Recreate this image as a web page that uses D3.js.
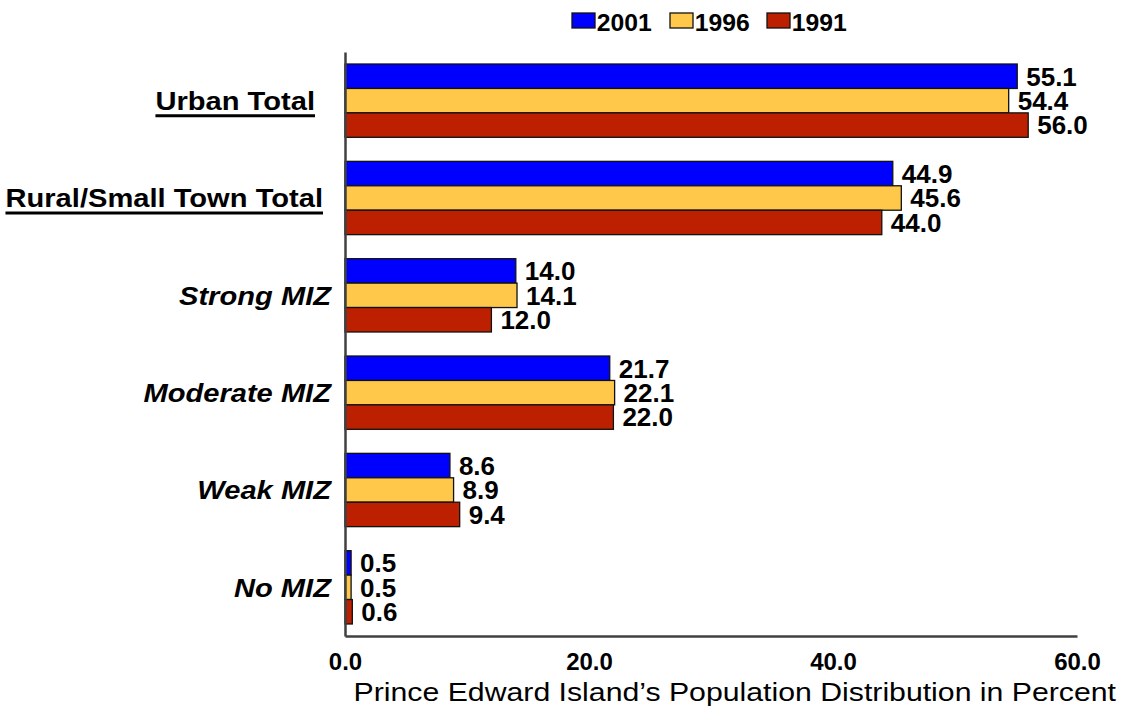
<!DOCTYPE html>
<html><head><meta charset="utf-8">
<script src="https://cdn.jsdelivr.net/npm/d3@7"></script>
<style>body{margin:0;background:#fff}svg{display:block}text{font-family:"Liberation Sans",Arial,sans-serif}</style>
</head><body><svg id="c" width="1125" height="710"></svg>
<script>
const categories = ["Urban Total","Rural/Small Town Total","Strong MIZ","Moderate MIZ","Weak MIZ","No MIZ"];
const years = ["2001","1996","1991"];
const v2001 = [55.1,44.9,14.0,21.7,8.6,0.5];
const v1996 = [54.4,45.6,14.1,22.1,8.9,0.5];
const v1991 = [56.0,44.0,12.0,22.0,9.4,0.6];
const xTicks = [0,20,40,60];
const colors = ["#0000ff","#ffc84b","#bd2000"];
const xTitle = "Prince Edward Island\u2019s Population Distribution in Percent";

const series = [v2001,v1996,v1991];
const svg = d3.select("#c");
const x = d3.scaleLinear().domain([0,60]).range([345,1077]);
const y = d3.scaleBand().domain(categories).range([52,636]).paddingInner(0.247).paddingOuter(0.1235);
const yy = d3.scaleBand().domain(years).range([0,y.bandwidth()]);
const col = d3.scaleOrdinal().domain(years).range(colors);

const rows = [];
categories.forEach((c,i)=>years.forEach((yr,j)=>rows.push({c,yr,v:series[j][i]})));

svg.selectAll("rect.bar").data(rows).join("rect").attr("class","bar")
  .attr("x",x(0)).attr("y",d=>y(d.c)+yy(d.yr)).attr("width",d=>x(d.v)-x(0)).attr("height",yy.bandwidth())
  .attr("fill",d=>col(d.yr)).attr("stroke","#111").attr("stroke-width",1.3);

svg.selectAll("text.val").data(rows).join("text").attr("class","val")
  .attr("x",d=>x(d.v)+9).attr("y",d=>y(d.c)+yy(d.yr)+yy.bandwidth()/2).attr("dy","0.36em")
  .attr("font-size",26).attr("font-weight","bold").text(d=>d.v.toFixed(1));

// axes
const xa = svg.append("g").attr("transform","translate(0,636)").call(d3.axisBottom(x).tickValues(xTicks).tickSize(0).tickPadding(17).tickFormat(d3.format(".1f")));
xa.select(".domain").attr("stroke","#404040").attr("stroke-width",2.5);
xa.selectAll("text").attr("font-size",24).attr("font-weight","bold").attr("fill","#000").style("font-family","Liberation Sans, Arial, sans-serif");
const ya = svg.append("g").attr("transform","translate(345,0)").call(d3.axisLeft(y).tickSize(0).tickFormat(""));
ya.select(".domain").attr("stroke","#404040").attr("stroke-width",2.5);

const labelEnd = c => c==="Urban Total"?315:(c==="Rural/Small Town Total"?323:331);
const sx = 1.12;
const cats = svg.selectAll("g.cat").data(categories).join("g").attr("class","cat")
  .attr("transform",d=>`translate(${labelEnd(d)},${y(d)+y.bandwidth()/2}) scale(${sx},1)`);
cats.append("text").attr("dy","0.36em")
  .attr("text-anchor","end").attr("font-size",26).attr("font-weight","bold")
  .attr("font-style",(d,i)=>i<2?"normal":"italic").text(d=>d);
cats.filter((d,i)=>i<2).each(function(){
  const g = d3.select(this);
  const w = g.select("text").node().getComputedTextLength();
  g.append("line").attr("x1",-w).attr("x2",0).attr("y1",15).attr("y2",15).attr("stroke","#000").attr("stroke-width",3);
});

svg.append("text").attr("transform","translate(1116,701) scale(1.21,1)").attr("text-anchor","end").attr("font-size",25).text(xTitle);

// legend
const lx = [572,670,767];
const lg = svg.selectAll("g.leg").data(years).join("g").attr("class","leg").attr("transform",(d,i)=>`translate(${lx[i]},13)`);
lg.append("rect").attr("width",23).attr("height",15).attr("fill",d=>col(d)).attr("stroke","#111").attr("stroke-width",1.3);
lg.append("text").attr("x",24).attr("y",18).attr("font-size",24).attr("font-weight","bold").attr("transform","scale(1.03,1)").text(d=>d);
</script></body></html>
